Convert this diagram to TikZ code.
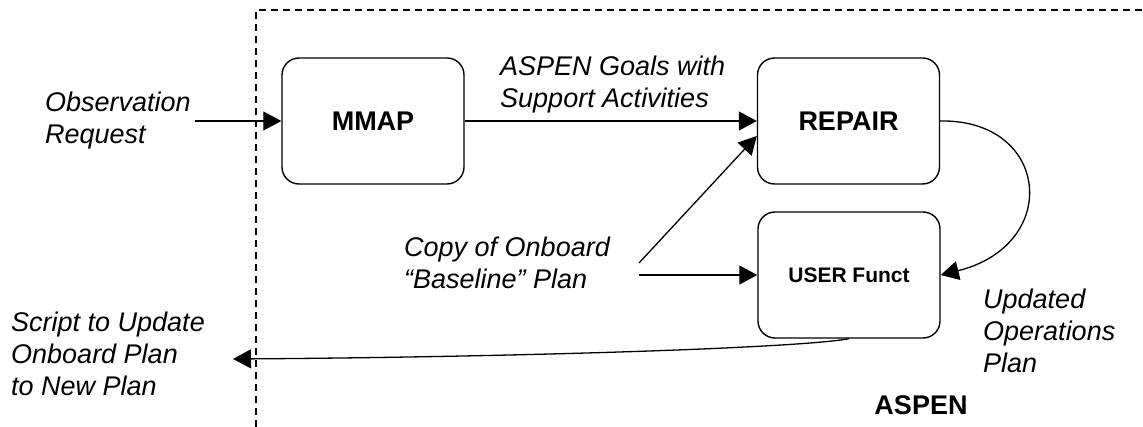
\documentclass[tikz,border=0pt]{standalone}
\usepackage{fontspec}
\setmainfont{Liberation Sans}
\usetikzlibrary{arrows.meta,calc}
\begin{document}
\begin{tikzpicture}[x=1pt,y=-1pt,
  procbox/.style={draw,line width=1.4pt,rounded corners=17pt,minimum width=182pt,minimum height=126pt,inner sep=0pt,font=\fontsize{27}{31}\selectfont\bfseries},
  lbl/.style={align=left,anchor=west,inner sep=0pt,font=\fontsize{27}{32}\selectfont\itshape},
  conn/.style={line width=1.3pt,-{Triangle[length=18pt,width=19pt]}},
  frame/.style={line width=1.3pt,dash pattern=on 7pt off 5pt}]
\useasboundingbox (0,0) rectangle (1143,427);
% dashed ASPEN boundary
\coordinate (fb) at (256,427);
\coordinate (ftl) at (256,10);
\coordinate (ftr) at (1143,10);
\draw[frame] (fb) -- (ftl) -- (ftr);
% boxes
\node[procbox] (mmap) at (373,121) {MMAP};
\node[procbox] (repair) at (848.5,121) {REPAIR};
\node[procbox,font=\fontsize{21}{25}\selectfont\bfseries] (user) at (849,275) {USER Funct};
% labels
\node[lbl] (obs) at (45,121) {Observation\\Request};
\node[lbl] (goals) at (500,84.5) {ASPEN Goals with\\Support Activities};
\node[lbl] (copy) at (404,263) {Copy of Onboard\\“Baseline” Plan};
\node[lbl] (upd) at (983,331) {Updated\\Operations\\Plan};
\node[lbl] (script) at (11,354) {Script to Update\\Onboard Plan\\to New Plan};
\node[font=\fontsize{27}{31}\selectfont\bfseries,inner sep=0pt] (aspen) at (921,405) {ASPEN};
% connectors
\coordinate (obsend) at (195,121);
\draw[conn] (obsend) -- (mmap.west);
\draw[conn] (mmap.east) -- (repair.west);
\coordinate (cpa) at (639,263);
\coordinate (cpb) at (639,275);
\draw[conn] (cpa) -- ($(repair.west)+(0,15)$);
\draw[conn] (cpb) -- (user.west);
\draw[conn] (repair.east) .. controls (1050,119) and (1062,245) .. (user.east);
\coordinate (scripttip) at (233,359);
\draw[conn] (user.south) .. controls (800,348) and (520,357) .. (scripttip);
\end{tikzpicture}
\end{document}
